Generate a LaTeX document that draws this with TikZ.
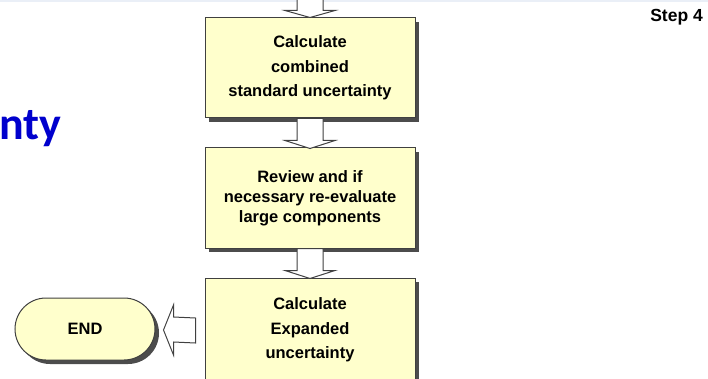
\documentclass[tikz,border=0pt]{standalone}
\usepackage{fontspec}
\setmainfont{Liberation Sans}
\newfontfamily\titlef{Carlito}
\usetikzlibrary{shadows,calc}
\definecolor{boxfill}{RGB}{255,255,204}
\definecolor{boxline}{RGB}{64,64,64}
\definecolor{titleblue}{RGB}{0,0,205}
\definecolor{topband}{RGB}{234,239,247}
\tikzset{
  stepbox/.style={draw=boxline, line width=1pt, fill=boxfill, minimum width=210pt,
    minimum height=100pt, align=center, inner sep=0pt,
    font=\fontsize{16.5}{24.5}\selectfont\bfseries,
    drop shadow={shadow xshift=4pt, shadow yshift=-4pt, fill=black!70, opacity=1}},
  endbox/.style={stepbox, rounded corners=31pt, minimum width=140pt, minimum height=62pt},
  blockarrow/.style={draw=boxline, line width=1pt, fill=white, line join=miter}
}
\begin{document}
\begin{tikzpicture}[x=1pt,y=-1pt]
\useasboundingbox (0,0) rectangle (708,379);
\clip (0,0) rectangle (708,379);
\fill[topband] (0,0) rectangle (708,2);
% title fragment
\node[anchor=base west, inner sep=0pt, text=titleblue, font=\titlef\fontsize{46}{46}\selectfont\bfseries] (title) at (-1,140) {nty};
\node[anchor=base east, inner sep=0pt, font=\fontsize{17.5}{20}\selectfont\bfseries] (steplabel) at (703,22) {Step 4};
% boxes
\node[stepbox] (b1) at (310,68) {Calculate\\combined\\standard uncertainty};
\node[stepbox, font=\fontsize{16.5}{20}\selectfont\bfseries] (b2) at (310,198) {Review and if\\necessary re-evaluate\\large components};
\node[stepbox, minimum height=104pt] (b3) at (310,330) {Calculate\\Expanded\\uncertainty};
\node[endbox] (end) at (85,329) {END};
% entry arrow
\coordinate (top) at (310,-2);
\draw[blockarrow] ($(top)+(-13,0)$) -- ($(b1.north)+(-13,-7)$) -- ($(b1.north)+(-25,-7)$) -- (b1.north)
  -- ($(b1.north)+(25,-7)$) -- ($(b1.north)+(13,-7)$) -- ($(top)+(13,0)$);
% down arrows
\foreach \a/\b in {b1/b2, b2/b3}{
  \draw[blockarrow] ($(\a.south)+(-13,0)$) -- ($(\b.north)+(-13,-7)$) -- ($(\b.north)+(-25,-7)$) -- ($(\b.north)+(0,1)$)
    -- ($(\b.north)+(25,-7)$) -- ($(\b.north)+(13,-7)$) -- ($(\a.south)+(13,0)$) -- cycle;
}
% left arrow to END
\draw[blockarrow] ($(b3.west)+(-9,-12)$) -- ($(end.east)+(18,-12)$) -- ($(end.east)+(18,-24)$) -- ($(end.east)+(8,1)$)
  -- ($(end.east)+(18,26)$) -- ($(end.east)+(18,13)$) -- ($(b3.west)+(-9,13)$) -- cycle;
\end{tikzpicture}
\end{document}
